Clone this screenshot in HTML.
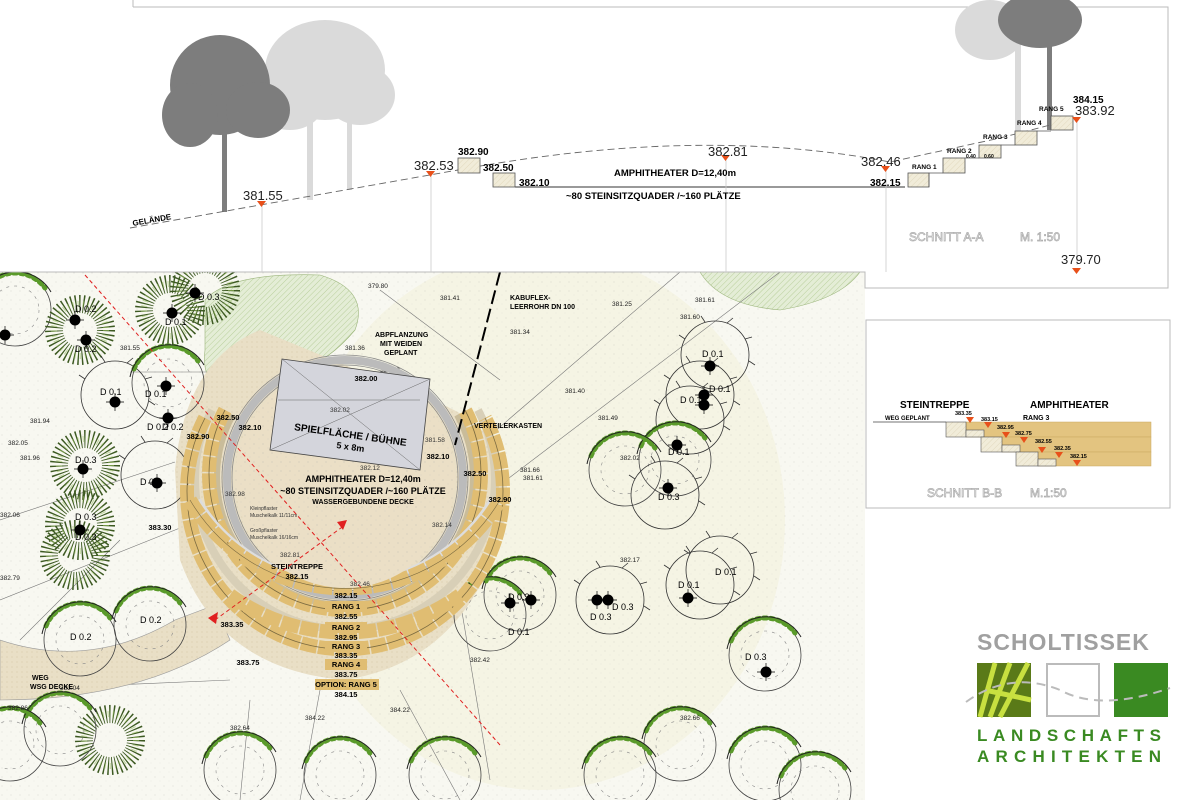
<!DOCTYPE html>
<html><head><meta charset="utf-8">
<style>
html,body{margin:0;padding:0;background:#fff;}
svg{display:block;font-family:"Liberation Sans",Arial,sans-serif;}
</style></head><body>
<svg width="1200" height="800" viewBox="0 0 1200 800" xmlns="http://www.w3.org/2000/svg">
<defs>
 <g id="dec">
  <circle r="36" fill="none" stroke="#444" stroke-width="0.8"/>
  <path d="M-34,-14 A37,37 0 0 1 30,-22" fill="none" stroke="#5a9a2a" stroke-width="5" stroke-dasharray="3 4" stroke-linecap="round"/>
  <path d="M-38,-6 A40,40 0 0 1 36,-18" fill="none" stroke="#222" stroke-width="1"/>
  <circle r="24" fill="none" stroke="#888" stroke-width="0.6" stroke-dasharray="3 5"/>
 </g>
 <g id="con">
  <circle r="26" fill="none" stroke="#3d5a22" stroke-width="18" stroke-dasharray="1.2 2.6"/>
  <circle r="26" fill="none" stroke="#9ac060" stroke-width="6" stroke-dasharray="1 4" opacity="0.6"/>
 </g>
 <g id="out">
  <circle r="34" fill="none" stroke="#333" stroke-width="0.8"/>
  <path d="M-30,-16 l-6,-4 M-10,-33 l-4,-6 M12,-32 l6,-5 M30,-16 l7,-2 M34,6 l6,4" stroke="#333" stroke-width="0.8"/>
 </g>
 <g id="dot"><circle r="5.5" fill="#000"/><path d="M-9,0H9M0,-9V9" stroke="#000" stroke-width="0.7"/></g>
 <pattern id="dots" width="9" height="9" patternUnits="userSpaceOnUse"><circle cx="2" cy="3" r="0.5" fill="#aaa"/><circle cx="7" cy="7" r="0.4" fill="#bbb"/></pattern>
 <pattern id="hatch" width="4" height="4" patternUnits="userSpaceOnUse" patternTransform="rotate(45)"><rect width="4" height="4" fill="#e4edd6"/><line x1="0" y1="0" x2="0" y2="4" stroke="#b9cf9c" stroke-width="1"/></pattern>
 <pattern id="sand" width="5" height="5" patternUnits="userSpaceOnUse"><rect width="5" height="5" fill="#e9dfc6"/><circle cx="2" cy="2" r="0.5" fill="#cdbf9e"/></pattern>
 <pattern id="box" width="4" height="4" patternUnits="userSpaceOnUse" patternTransform="rotate(45)"><rect width="4" height="4" fill="#f1ecd9"/><line x1="0" y1="0" x2="0" y2="4" stroke="#ddd3b6" stroke-width="0.8"/></pattern>
</defs>

<rect x="0" y="272" width="865" height="528" fill="#f8f8f1"/>
<ellipse cx="540" cy="520" rx="245" ry="270" fill="#f5f4e4"/>
<rect x="0" y="272" width="865" height="528" fill="url(#dots)" opacity="0.5"/>
<path d="M205,300 Q230,272 320,275 Q370,290 355,330 Q330,360 300,370 L240,400 Q200,390 205,350 Z" fill="url(#hatch)" stroke="#9ab47a" stroke-width="0.6"/>
<path d="M700,272 L860,272 Q840,300 780,310 Q720,305 700,272Z" fill="url(#hatch)" stroke="#9ab47a" stroke-width="0.6"/>
<g stroke="#777" stroke-width="0.6" fill="none">
 <path d="M0,520 L175,462"/><path d="M20,640 L120,540"/><path d="M480,500 L780,272"/><path d="M450,470 L680,272"/>
 <path d="M380,290 L500,380"/><path d="M0,600 L200,520"/><path d="M0,690 L230,680"/><path d="M250,700 L240,800"/>
 <path d="M320,690 L300,800"/><path d="M400,690 L460,800"/><path d="M460,600 L490,780"/><path d="M130,372 L400,372"/>
</g>
<path d="M0,640 Q90,670 175,620 L215,605 L230,640 Q140,700 0,700Z" fill="url(#sand)" stroke="#999" stroke-width="0.6"/>
<path d="M175,470 Q185,360 260,330 L430,400 Q520,430 505,520 Q470,660 345,680 Q220,670 180,560Z" fill="url(#sand)"/>

<g>
 <use href="#dec" x="15" y="310"/><use href="#con" x="80" y="330"/><use href="#con" x="170" y="310"/><use href="#con" x="205" y="290"/>
 <use href="#out" x="115" y="395"/><use href="#dec" x="168" y="383"/><use href="#out" x="155" y="475"/>
 <use href="#con" x="85" y="465"/><use href="#con" x="80" y="525"/><use href="#con" x="75" y="555"/>
 <use href="#dec" x="80" y="640"/><use href="#dec" x="150" y="625"/><use href="#con" x="110" y="740"/>
 <use href="#dec" x="60" y="730"/><use href="#dec" x="10" y="745"/><use href="#dec" x="240" y="770"/>
 <use href="#dec" x="340" y="775"/><use href="#dec" x="445" y="775"/>
 <use href="#out" x="715" y="355"/><use href="#out" x="700" y="395"/><use href="#out" x="690" y="420"/>
 <use href="#dec" x="675" y="460"/><use href="#dec" x="625" y="470"/><use href="#out" x="665" y="495"/>
 <use href="#dec" x="520" y="595"/><use href="#dec" x="490" y="615"/><use href="#out" x="610" y="600"/>
 <use href="#out" x="700" y="585"/><use href="#out" x="720" y="570"/><use href="#dec" x="765" y="655"/>
 <use href="#dec" x="680" y="745"/><use href="#dec" x="765" y="765"/><use href="#dec" x="620" y="775"/><use href="#dec" x="815" y="790"/>
 <use href="#dot" x="5" y="335"/><use href="#dot" x="75" y="320"/><use href="#dot" x="86" y="340"/><use href="#dot" x="172" y="313"/>
 <use href="#dot" x="195" y="293"/><use href="#dot" x="115" y="402"/><use href="#dot" x="166" y="386"/><use href="#dot" x="168" y="418"/>
 <use href="#dot" x="157" y="483"/><use href="#dot" x="83" y="469"/><use href="#dot" x="80" y="530"/><use href="#dot" x="710" y="366"/>
 <use href="#dot" x="704" y="395"/><use href="#dot" x="704" y="405"/><use href="#dot" x="677" y="445"/><use href="#dot" x="668" y="488"/>
 <use href="#dot" x="531" y="600"/><use href="#dot" x="510" y="603"/><use href="#dot" x="597" y="600"/><use href="#dot" x="608" y="600"/>
 <use href="#dot" x="688" y="598"/><use href="#dot" x="766" y="672"/>
</g>
<g font-size="9" fill="#000">
 <text x="198" y="300">D 0.3</text><text x="165" y="325">D 0.1</text><text x="75" y="312">D 0.2</text><text x="75" y="352">D 0.2</text>
 <text x="100" y="395">D 0.1</text><text x="145" y="397">D 0.1</text><text x="147" y="430">D 0.2</text><text x="162" y="430">D 0.2</text>
 <text x="140" y="485">D 0.1</text><text x="75" y="463">D 0.3</text><text x="75" y="520">D 0.3</text><text x="75" y="540">D 0.3</text>
 <text x="702" y="357">D 0.1</text><text x="709" y="392">D 0.1</text><text x="680" y="403">D 0.1</text><text x="668" y="455">D 0.1</text>
 <text x="658" y="500">D 0.3</text><text x="508" y="600">D 0.3</text><text x="508" y="635">D 0.1</text><text x="590" y="620">D 0.3</text>
 <text x="612" y="610">D 0.3</text><text x="678" y="588">D 0.1</text><text x="715" y="575">D 0.1</text><text x="745" y="660">D 0.3</text>
 <text x="70" y="640">D 0.2</text><text x="140" y="623">D 0.2</text>
</g>
<g font-size="6.5" fill="#222">
 <text x="120" y="350">381.55</text><text x="30" y="423">381.94</text><text x="8" y="445">382.05</text><text x="20" y="460">381.96</text>
 <text x="345" y="350">381.36</text><text x="380" y="372">381.39</text><text x="440" y="300">381.41</text><text x="510" y="334">381.34</text>
 <text x="612" y="306">381.25</text><text x="680" y="319">381.60</text><text x="695" y="302">381.61</text><text x="565" y="393">381.40</text>
 <text x="598" y="420">381.49</text><text x="520" y="472">381.66</text><text x="523" y="480">381.61</text><text x="620" y="460">382.02</text>
 <text x="8" y="710">382.86</text><text x="60" y="690">383.04</text><text x="230" y="730">382.64</text><text x="305" y="720">384.22</text>
 <text x="390" y="712">384.22</text><text x="470" y="662">382.42</text><text x="680" y="720">382.66</text><text x="0" y="580">382.79</text>
 <text x="368" y="288">379.80</text><text x="0" y="517">382.06</text><text x="620" y="562">382.17</text>
</g>

<g fill="none">
 <circle cx="345" cy="478" r="118" stroke="#bbb" stroke-width="8"/>
 <circle cx="345" cy="478" r="123" stroke="#888" stroke-width="0.8"/>
 <circle cx="345" cy="478" r="113" stroke="#888" stroke-width="0.8"/>
 <path d="M233,415 A128,128 0 1 0 457,415" stroke="#c9bc9a" stroke-width="6"/>
 <path d="M225,410 A136,136 0 1 0 465,410" stroke="#e0bd72" stroke-width="14" stroke-dasharray="15 1.5"/>
 <path d="M225,410 A136,136 0 1 0 465,410" stroke="#7a6a40" stroke-width="0.8"/>
 <path d="M212,410 A150,150 0 1 0 478,410" stroke="#d8cfb7" stroke-width="8"/>
 <path d="M205,418 A158,158 0 1 0 485,418" stroke="#e0bd72" stroke-width="14" stroke-dasharray="16 1.5"/>
 <path d="M205,418 A158,158 0 1 0 485,418" stroke="#7a6a40" stroke-width="0.8"/>
 <path d="M198,500 A172,172 0 0 0 492,500" stroke="#ddd" stroke-width="6"/>
 <path d="M190,500 A180,180 0 0 0 500,500" stroke="#e0bd72" stroke-width="14" stroke-dasharray="18 1.5"/>
 <path d="M190,500 A180,180 0 0 0 500,500" stroke="#7a6a40" stroke-width="0.6"/>
 <path d="M230,595 A195,195 0 0 0 460,595" stroke="#e0bd72" stroke-width="14" stroke-dasharray="18 1.5"/>
</g>
<circle cx="345" cy="478" r="110" fill="#ebdfc6"/>
<circle cx="345" cy="478" r="110" fill="url(#dots)" opacity="0.7"/>
<polygon points="282,359 430,379 420,470 270,450" fill="#d4d5dc" stroke="#444" stroke-width="0.8"/>
<g stroke="#666" stroke-width="0.5" fill="none"><path d="M282,359 L420,470 M430,379 L270,450"/><path d="M278,400 H420"/></g>
<g text-anchor="middle" font-weight="bold" fill="#000">
 <text x="350" y="438" font-size="10" transform="rotate(8 350 438)">SPIELFLÄCHE / BÜHNE</text>
 <text x="350" y="450" font-size="9" transform="rotate(8 350 450)">5 x 8m</text>
 <text x="363" y="482" font-size="9">AMPHITHEATER D=12,40m</text>
 <text x="363" y="494" font-size="9">~80 STEINSITZQUADER /~160 PLÄTZE</text>
 <text x="363" y="504" font-size="7">WASSERGEBUNDENE DECKE</text>
 <text x="297" y="569" font-size="7.5">STEINTREPPE</text>
 <text x="297" y="579" font-size="7.5">382.15</text>
</g>
<g font-size="7.5" font-weight="bold" text-anchor="middle" fill="#000">
 <rect x="325" y="601" width="42" height="11" fill="#e0bd72"/><text x="346" y="609">RANG 1</text>
 <text x="346" y="598">382.15</text><text x="346" y="619">382.55</text>
 <rect x="325" y="622" width="42" height="11" fill="#e0bd72"/><text x="346" y="630">RANG 2</text>
 <text x="346" y="640">382.95</text>
 <rect x="325" y="641" width="42" height="11" fill="#e0bd72"/><text x="346" y="649">RANG 3</text>
 <text x="346" y="658">383.35</text>
 <rect x="325" y="659" width="42" height="11" fill="#e0bd72"/><text x="346" y="667">RANG 4</text>
 <text x="346" y="677">383.75</text>
 <rect x="315" y="679" width="64" height="11" fill="#e0bd72"/><text x="346" y="687">OPTION: RANG 5</text>
 <text x="346" y="697">384.15</text>
 <text x="232" y="627">383.35</text><text x="248" y="665">383.75</text><text x="160" y="530">383.30</text>
 <text x="228" y="420">382.50</text><text x="250" y="430">382.10</text><text x="198" y="439">382.90</text>
 <text x="438" y="459">382.10</text><text x="475" y="476">382.50</text><text x="500" y="502">382.90</text><text x="366" y="381">382.00</text>
</g>
<g font-size="6.5" fill="#333"><text x="330" y="412">382.02</text><text x="360" y="470">382.12</text><text x="432" y="527">382.14</text><text x="280" y="557">382.81</text>
<text x="225" y="496">382.98</text><text x="350" y="586">382.46</text><text x="250" y="510" font-size="5">Kleinpflaster</text><text x="250" y="517" font-size="5">Muschelkalk 11/11cm</text>
<text x="250" y="532" font-size="5">Großpflaster</text><text x="250" y="539" font-size="5">Muschelkalk 16/16cm</text><text x="425" y="442">381.58</text></g>
<g stroke="#e02020" stroke-width="1" stroke-dasharray="4 3" fill="none">
 <path d="M85,275 L500,745"/><path d="M215,620 L345,525"/>
</g>
<path d="M337,522 L347,520 L343,530Z" fill="#e02020"/><path d="M208,618 L218,612 L216,624Z" fill="#e02020"/>
<path d="M500,272 L455,445" stroke="#000" stroke-width="2" stroke-dasharray="14 5"/>
<g font-size="7" font-weight="bold" fill="#000">
 <text x="510" y="300">KABUFLEX-</text><text x="510" y="309">LEERROHR DN 100</text>
 <text x="474" y="428">VERTEILERKASTEN</text>
 <text x="375" y="337">ABPFLANZUNG</text><text x="380" y="346">MIT WEIDEN</text><text x="384" y="355">GEPLANT</text>
 <text x="32" y="680">WEG</text><text x="30" y="689">WSG DECKE</text>
</g>

<rect x="0" y="0" width="1200" height="272" fill="#fff"/>
<path d="M133,7 H1168 V288 H865 V272 H0" fill="none" stroke="#bbb" stroke-width="1"/>
<path d="M133,0 V7" stroke="#bbb"/>
<g fill="#dadada">
 <ellipse cx="325" cy="70" rx="60" ry="50"/><ellipse cx="290" cy="100" rx="35" ry="30"/><ellipse cx="360" cy="95" rx="35" ry="30"/>
 <rect x="307" y="120" width="6" height="80"/><rect x="347" y="110" width="5" height="80"/>
</g>
<g fill="#7d7d7d">
 <ellipse cx="220" cy="85" rx="50" ry="50"/><ellipse cx="190" cy="115" rx="28" ry="32"/><ellipse cx="258" cy="110" rx="32" ry="28"/>
 <rect x="222" y="120" width="5" height="92"/>
</g>
<g fill="#dadada"><ellipse cx="990" cy="30" rx="35" ry="30"/><rect x="1015" y="20" width="6" height="120"/></g>
<g fill="#7d7d7d"><ellipse cx="1040" cy="20" rx="42" ry="28"/><rect x="1047" y="30" width="5" height="100"/></g>
<path d="M130,228 L458,170 Q700,125 890,162 L1000,138 L1077,118" fill="none" stroke="#666" stroke-width="0.9" stroke-dasharray="7 4"/>
<path d="M515,187 H905" stroke="#333" stroke-width="1"/>
<g fill="url(#box)" stroke="#555" stroke-width="0.8">
 <rect x="458" y="158" width="22" height="15"/><rect x="493" y="173" width="22" height="14"/>
 <rect x="908" y="173" width="21" height="14"/><rect x="943" y="158" width="22" height="15"/><rect x="979" y="145" width="22" height="13"/>
 <rect x="1015" y="131" width="22" height="14"/><rect x="1051" y="116" width="22" height="14"/>
</g>
<path d="M929,187 V173 H943 M965,158 H979 M1001,145 H1015 M1037,131 H1051" fill="none" stroke="#555" stroke-width="0.8"/>
<g stroke="#ccc" stroke-width="0.8"><path d="M262,205 V272"/><path d="M431,175 V272"/><path d="M726,160 V272"/><path d="M886,168 V272"/><path d="M1077,122 V265"/></g>
<g fill="#e8501a"><path d="M257,201 h9 l-4.5,6z"/><path d="M426,171 h9 l-4.5,6z"/><path d="M721,155 h9 l-4.5,6z"/><path d="M881,166 h9 l-4.5,6z"/><path d="M1072,117 h9 l-4.5,6z"/><path d="M1072,268 h9 l-4.5,6z"/></g>
<g font-size="13" fill="#222"><text x="243" y="200">381.55</text><text x="414" y="170">382.53</text><text x="708" y="156">382.81</text><text x="861" y="166">382.46</text><text x="1075" y="115">383.92</text><text x="1061" y="264">379.70</text></g>
<g font-size="10" font-weight="bold" fill="#000">
 <text x="458" y="155">382.90</text><text x="483" y="171">382.50</text><text x="519" y="186">382.10</text><text x="870" y="186">382.15</text>
 <text x="1073" y="103">384.15</text>
 <text x="614" y="176" font-size="9.5">AMPHITHEATER D=12,40m</text>
 <text x="566" y="199" font-size="9.5">~80 STEINSITZQUADER /~160 PLÄTZE</text>
 <text x="133" y="226" font-size="8" transform="rotate(-10 133 226)">GELÄNDE</text>
</g>
<g font-size="6.5" font-weight="bold" fill="#000"><text x="912" y="169">RANG 1</text><text x="947" y="153">RANG 2</text><text x="983" y="139">RANG 3</text><text x="1017" y="125">RANG 4</text><text x="1039" y="111">RANG 5</text>
<text x="966" y="158" font-size="5">0.40</text><text x="984" y="158" font-size="5">0.60</text></g>
<g font-size="12" fill="#fff" stroke="#aaa" stroke-width="0.7"><text x="909" y="241">SCHNITT A-A</text><text x="1020" y="241">M. 1:50</text></g>

<rect x="866" y="320" width="304" height="188" fill="#fff" stroke="#bbb" stroke-width="1"/>
<g font-weight="bold" fill="#000"><text x="900" y="408" font-size="10">STEINTREPPE</text><text x="1030" y="408" font-size="10">AMPHITHEATER</text>
<text x="885" y="420" font-size="6">WEG GEPLANT</text><text x="1023" y="420" font-size="7">RANG 3</text><text x="1069" y="434" font-size="7">RANG 2</text><text x="1115" y="449" font-size="7">RANG 1</text></g>
<path d="M873,422 H946" stroke="#444" stroke-width="0.8"/>
<rect x="966" y="422" width="185" height="15" fill="#e3c480" stroke="#c9a860" stroke-width="0.5"/>
<rect x="1002" y="437" width="149" height="15" fill="#e3c480" stroke="#c9a860" stroke-width="0.5"/>
<rect x="1038" y="452" width="113" height="14" fill="#e3c480" stroke="#c9a860" stroke-width="0.5"/>
<g fill="url(#box)" stroke="#555" stroke-width="0.6"><rect x="946" y="422" width="20" height="15"/><rect x="966" y="430" width="18" height="7"/>
<rect x="981" y="437" width="21" height="15"/><rect x="1002" y="445" width="18" height="7"/><rect x="1016" y="452" width="22" height="14"/><rect x="1038" y="459" width="18" height="7"/></g>
<g fill="#e8501a"><path d="M966,417 h8 l-4,6z"/><path d="M984,422 h8 l-4,6z"/><path d="M1002,432 h8 l-4,6z"/><path d="M1020,437 h8 l-4,6z"/><path d="M1038,447 h8 l-4,6z"/><path d="M1055,452 h8 l-4,6z"/><path d="M1073,460 h8 l-4,6z"/></g>
<g font-size="5.5" font-weight="bold" fill="#000"><text x="955" y="415">383.35</text><text x="981" y="421">383.15</text><text x="997" y="429">382.95</text><text x="1015" y="435">382.75</text><text x="1035" y="443">382.55</text><text x="1054" y="450">382.35</text><text x="1070" y="458">382.15</text></g>
<g font-size="12" fill="#fff" stroke="#aaa" stroke-width="0.7"><text x="927" y="497">SCHNITT B-B</text><text x="1030" y="497">M.1:50</text></g>

<text x="977" y="650" font-size="23" font-weight="bold" fill="#a0a0a0" letter-spacing="1">SCHOLTISSEK</text>
<rect x="977" y="663" width="54" height="54" fill="#5a7a18"/>
<path d="M980,717 L995,663 M990,717 L1010,663 M1000,717 L1028,663 M985,690 L1031,700" stroke="#c8e040" stroke-width="5"/>
<rect x="1047" y="664" width="52" height="52" fill="#fff" stroke="#bbb" stroke-width="2"/>
<rect x="1114" y="663" width="54" height="54" fill="#3a8a22"/>
<path d="M966,702 Q1010,670 1060,690 Q1100,712 1170,688" fill="none" stroke="#bbb" stroke-width="2" stroke-dasharray="9 6"/>
<g font-size="17" font-weight="bold" fill="#3a8a22" letter-spacing="6"><text x="977" y="741" textLength="190">LANDSCHAFTS</text><text x="977" y="762" textLength="190">ARCHITEKTEN</text></g>
</svg>
</body></html>
